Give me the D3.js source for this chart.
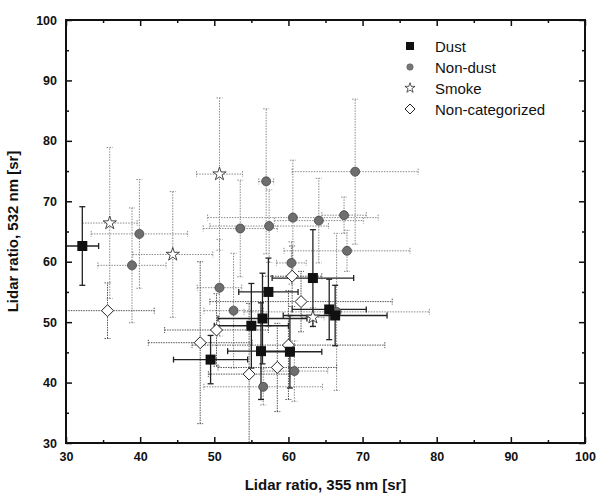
<!DOCTYPE html>
<html>
<head>
<meta charset="utf-8">
<script src="https://cdn.jsdelivr.net/npm/d3@7"></script>
<style>
  body { margin: 0; background: #fff; }
  svg { font-family: "Liberation Sans", Arial, sans-serif; }
</style>
</head>
<body>
<svg id="chart" width="597" height="499"></svg>
<script>
// Values: [x355, y532, errX, errY]
var dust = [
    [32.2, 62.6, 2.2, 6.5],
    [49.5, 43.8, 5.0, 4.0],
    [55.0, 49.4, 5.0, 7.0],
    [56.5, 50.6, 6.0, 7.5],
    [57.3, 55.0, 4.0, 5.6],
    [56.3, 45.2, 4.5, 8.0],
    [60.2, 45.1, 4.3, 6.0],
    [63.3, 57.3, 5.5, 8.0],
    [65.5, 52.1, 5.0, 5.0],
    [66.3, 51.1, 7.0, 5.0]
];
var nonDust = [
    [39.9, 64.6, 6.5, 9.0],
    [38.9, 59.4, 4.6, 9.5],
    [50.7, 55.7, 3.0, 8.0],
    [53.5, 65.5, 5.0, 8.0],
    [57.0, 73.3, 1.0, 12.0],
    [57.4, 65.9, 8.0, 6.0],
    [60.6, 67.3, 11.5, 9.5],
    [64.1, 66.8, 6.0, 7.0],
    [67.5, 67.7, 3.0, 3.0],
    [69.0, 74.9, 8.5, 12.0],
    [67.9, 61.8, 8.5, 3.4],
    [60.4, 59.8, 2.0, 3.5],
    [52.6, 51.9, 4.0, 9.5],
    [66.5, 51.7, 12.5, 13.0],
    [60.8, 41.9, 4.5, 5.0],
    [56.6, 39.3, 8.0, 3.0]
];
var smoke = [
    [35.9, 66.4, 3.7, 12.5],
    [44.4, 61.2, 5.4, 10.4],
    [50.7, 74.5, 3.1, 12.6],
    [63.3, 50.8, 1.5, 1.6]
];
var nonCat = [
    [35.6, 51.9, 6.3, 4.6],
    [50.3, 48.7, 7.0, 6.0],
    [48.1, 46.6, 7.0, 13.4],
    [54.7, 41.4, 5.5, 11.7],
    [58.5, 42.5, 8.0, 7.3],
    [60.0, 46.2, 13.0, 9.0],
    [60.5, 57.6, 4.0, 5.0],
    [61.7, 53.4, 12.3, 5.0]
];
var legendLabels = ["Dust", "Non-dust", "Smoke", "Non-categorized"];
var majorTicks = [30, 40, 50, 60, 70, 80, 90, 100];
var minorTicks = [35, 45, 55, 65, 75, 85, 95];

var margin = { top: 20, right: 12, bottom: 56, left: 66 },
    width = 597 - margin.left - margin.right,
    height = 499 - margin.top - margin.bottom;

var x = d3.scaleLinear().domain([30, 100]).range([0, width]);
var y = d3.scaleLinear().domain([30, 100]).range([height, 0]);

var svg = d3.select("#chart")
    .append("g")
    .attr("transform", "translate(" + margin.left + "," + margin.top + ")");

svg.append("defs").append("clipPath").attr("id", "clip")
    .append("rect").attr("width", width).attr("height", height);

var plot = svg.append("g").attr("clip-path", "url(#clip)");

// Series styles: error bar look and marker
var series = [
    { data: nonDust, bar: "#8a8a8a", dash: "1.5,1.2", width: 1 },
    { data: smoke, bar: "#8a8a8a", dash: "1.5,1.2", width: 1 },
    { data: nonCat, bar: "#555", dash: "1.5,1", width: 1 },
    { data: dust, bar: "#222", dash: null, width: 1.3 }
];

var cap = 3;
series.forEach(function (s) {
    var g = plot.append("g")
        .attr("stroke", s.bar)
        .attr("stroke-width", s.width)
        .attr("stroke-dasharray", s.dash)
        .attr("fill", "none");
    s.data.forEach(function (d) {
        var cx = x(d[0]), cy = y(d[1]);
        var x0 = x(d[0] - d[2]), x1 = x(d[0] + d[2]);
        var y0 = y(d[1] - d[3]), y1 = y(d[1] + d[3]);
        g.append("line").attr("x1", x0).attr("x2", x1).attr("y1", cy).attr("y2", cy);
        g.append("line").attr("x1", cx).attr("x2", cx).attr("y1", y0).attr("y2", y1);
        // caps
        g.append("line").attr("x1", x0).attr("x2", x0).attr("y1", cy - cap).attr("y2", cy + cap);
        g.append("line").attr("x1", x1).attr("x2", x1).attr("y1", cy - cap).attr("y2", cy + cap);
        g.append("line").attr("x1", cx - cap).attr("x2", cx + cap).attr("y1", y0).attr("y2", y0);
        g.append("line").attr("x1", cx - cap).attr("x2", cx + cap).attr("y1", y1).attr("y2", y1);
    });
});

// Markers
function drawNonDust(sel) {
    sel.append("circle").attr("r", 4.5)
        .attr("fill", "#6e6e6e").attr("stroke", "#444").attr("stroke-width", 0.8);
}
function drawSmoke(sel) {
    sel.append("path").attr("d", d3.symbol().type(d3.symbolStar).size(55))
        .attr("fill", "#fff").attr("stroke", "#333").attr("stroke-width", 0.9);
}
function drawNonCat(sel) {
    sel.append("path").attr("d", "M0,-6L6,0L0,6L-6,0Z")
        .attr("fill", "#fff").attr("stroke", "#222").attr("stroke-width", 1);
}
function drawDust(sel) {
    sel.append("rect").attr("x", -5).attr("y", -5).attr("width", 10).attr("height", 10)
        .attr("fill", "#111");
}

function markers(data, fn) {
    plot.append("g").selectAll("g")
        .data(data)
        .enter()
        .append("g")
        .attr("transform", function (d) { return "translate(" + x(d[0]) + "," + y(d[1]) + ")"; })
        .each(function () { fn(d3.select(this)); });
}
markers(nonDust, drawNonDust);
markers(smoke, drawSmoke);
markers(nonCat, drawNonCat);
markers(dust, drawDust);

// Axes with inward ticks on all four sides
function styleAxis(g) {
    g.select(".domain").remove();
    g.selectAll("line").attr("stroke", "#111").attr("stroke-width", 1.5);
    g.selectAll("text")
        .attr("fill", "#111")
        .style("font-size", "12.5px")
        .style("font-weight", "bold");
}

svg.append("g")
    .attr("transform", "translate(0," + height + ")")
    .call(d3.axisBottom(x).tickValues(majorTicks).tickSizeInner(-6).tickPadding(9).tickFormat(d3.format("d")))
    .call(styleAxis);
svg.append("g")
    .attr("transform", "translate(0," + height + ")")
    .call(d3.axisBottom(x).tickValues(minorTicks).tickSizeInner(-3).tickFormat(""))
    .call(styleAxis);
svg.append("g")
    .call(d3.axisTop(x).tickValues(majorTicks).tickSizeInner(-6).tickFormat(""))
    .call(styleAxis);
svg.append("g")
    .call(d3.axisTop(x).tickValues(minorTicks).tickSizeInner(-3).tickFormat(""))
    .call(styleAxis);

svg.append("g")
    .call(d3.axisLeft(y).tickValues(majorTicks).tickSizeInner(-6).tickPadding(9).tickFormat(d3.format("d")))
    .call(styleAxis);
svg.append("g")
    .call(d3.axisLeft(y).tickValues(minorTicks).tickSizeInner(-3).tickFormat(""))
    .call(styleAxis);
svg.append("g")
    .attr("transform", "translate(" + width + ",0)")
    .call(d3.axisRight(y).tickValues(majorTicks).tickSizeInner(-6).tickFormat(""))
    .call(styleAxis);
svg.append("g")
    .attr("transform", "translate(" + width + ",0)")
    .call(d3.axisRight(y).tickValues(minorTicks).tickSizeInner(-3).tickFormat(""))
    .call(styleAxis);

// Frame
svg.append("rect")
    .attr("width", width).attr("height", height)
    .attr("fill", "none").attr("stroke", "#111").attr("stroke-width", 2);

// Axis titles
svg.append("text")
    .attr("x", width / 2).attr("y", height + 47)
    .attr("text-anchor", "middle")
    .style("font-size", "15px").style("font-weight", "bold").attr("fill", "#111")
    .text("Lidar ratio, 355 nm [sr]");
svg.append("text")
    .attr("transform", "translate(-48," + (height / 2) + ") rotate(-90)")
    .attr("text-anchor", "middle")
    .style("font-size", "15px").style("font-weight", "bold").attr("fill", "#111")
    .text("Lidar ratio, 532 nm [sr]");

// Legend
var drawers = [
    function (s) { s.append("rect").attr("x", -4).attr("y", -4).attr("width", 8).attr("height", 8).attr("fill", "#111"); },
    function (s) { s.append("circle").attr("r", 3.2).attr("fill", "#777").attr("stroke", "#555").attr("stroke-width", 0.6); },
    function (s) { s.append("path").attr("d", d3.symbol().type(d3.symbolStar).size(32)).attr("fill", "#fff").attr("stroke", "#333").attr("stroke-width", 0.8); },
    function (s) { s.append("path").attr("d", "M0,-5L5,0L0,5L-5,0Z").attr("fill", "#fff").attr("stroke", "#222").attr("stroke-width", 1); }
];
var legend = svg.append("g").attr("transform", "translate(344,26)");
legendLabels.forEach(function (label, i) {
    var row = legend.append("g").attr("transform", "translate(0," + (i * 21) + ")");
    drawers[i](row);
    row.append("text")
        .attr("x", 25).attr("y", 5.5)
        .style("font-size", "15px").attr("fill", "#111")
        .text(label);
});
</script>
</body>
</html>
